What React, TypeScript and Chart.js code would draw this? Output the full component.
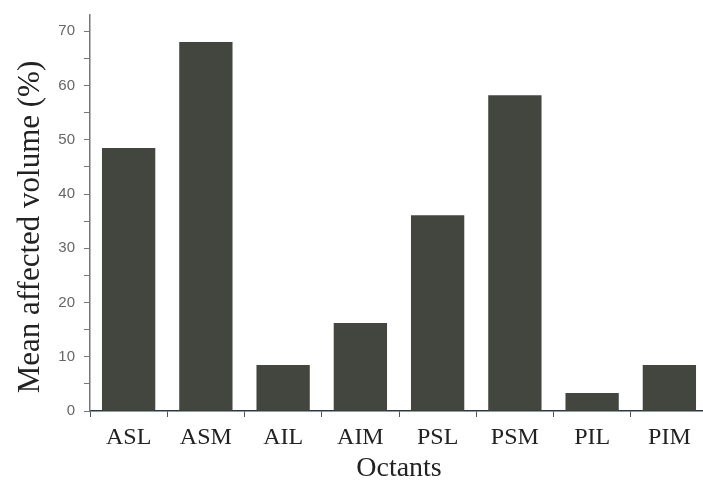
import React, { useEffect, useRef } from "react";
import { Chart, registerables } from "chart.js";

Chart.register(...registerables);

const categories = ["ASL", "ASM", "AIL", "AIM", "PSL", "PSM", "PIL", "PIM"];
const meanAffectedVolume = [48.5, 68, 8.5, 16.2, 36.1, 58.2, 3.3, 8.5];
const yTickValues = [0, 5, 10, 15, 20, 25, 30, 35, 40, 45, 50, 55, 60, 65, 70];
const yTickLabels = ["0", "", "10", "", "20", "", "30", "", "40", "", "50", "", "60", "", "70"];
const yTitle = "Mean affected volume (%)";
const xTitle = "Octants";
const yMin = 0;
const yMax = 73;

const yTitlePlugin = {
  id: "yTitlePlugin",
  afterDraw(chart: any) {
    const ctx = chart.ctx;
    const area = chart.chartArea;
    ctx.save();
    ctx.translate(31, (area.top + area.bottom) / 2 + 14);
    ctx.rotate(-Math.PI / 2);
    ctx.fillStyle = "#222";
    ctx.font = "31px 'Liberation Serif'";
    ctx.textAlign = "center";
    ctx.textBaseline = "middle";
    ctx.fillText(yTitle, 0, 0);
    ctx.restore();
  },
};

export default function App() {
  const ref = useRef<HTMLCanvasElement | null>(null);

  useEffect(() => {
    if (!ref.current) return;
    const chart = new Chart(ref.current, {
      type: "bar",
      data: {
        labels: categories,
        datasets: [
          {
            data: meanAffectedVolume,
            backgroundColor: "#43463f",
            borderWidth: 0,
            categoryPercentage: 1,
            barPercentage: 0.69,
          },
        ],
      },
      plugins: [yTitlePlugin],
      options: {
        responsive: false,
        animation: false,
        layout: { padding: { top: 13, right: 12, left: 0, bottom: 0 } },
        plugins: { legend: { display: false }, tooltip: { enabled: false } },
        scales: {
          x: {
            offset: true,
            grid: {
              display: true,
              offset: true,
              drawOnChartArea: false,
              drawTicks: true,
              tickLength: 6,
              color: "#555",
            },
            border: { display: true, color: "#2c3840", width: 1.5 },
            ticks: {
              color: "#222",
              padding: 6,
              font: { family: "Liberation Serif", size: 24 },
            },
            title: {
              display: true,
              text: xTitle,
              color: "#222",
              padding: { top: 0, bottom: 0 },
              font: { family: "Liberation Serif", size: 28 },
            },
            afterFit: (scale: any) => {
              scale.height = 74;
            },
          },
          y: {
            min: yMin,
            max: yMax,
            grid: {
              display: true,
              drawOnChartArea: false,
              drawTicks: true,
              tickLength: 6,
              color: "#777",
            },
            border: { display: true, color: "#777", width: 1.5 },
            afterBuildTicks: (scale: any) => {
              scale.ticks = yTickValues.map((v) => ({ value: v }));
            },
            ticks: {
              autoSkip: false,
              color: "#666",
              padding: 9,
              font: { family: "Liberation Sans", size: 15, lineHeight: 0.8 },
              callback: (v: any) => {
                const i = yTickValues.indexOf(Number(v));
                return i >= 0 ? yTickLabels[i] : "";
              },
            },
            title: { display: false },
            afterFit: (scale: any) => {
              scale.width = 90;
            },
          },
        },
      },
    });
    return () => chart.destroy();
  }, []);

  return (
    <div
      style={{
        position: "fixed",
        left: 0,
        top: 0,
        width: 703,
        height: 485,
        overflow: "hidden",
        background: "#fff",
      }}
    >
      <canvas ref={ref} width={720} height={485} style={{ display: "block" }} />
    </div>
  );
}
